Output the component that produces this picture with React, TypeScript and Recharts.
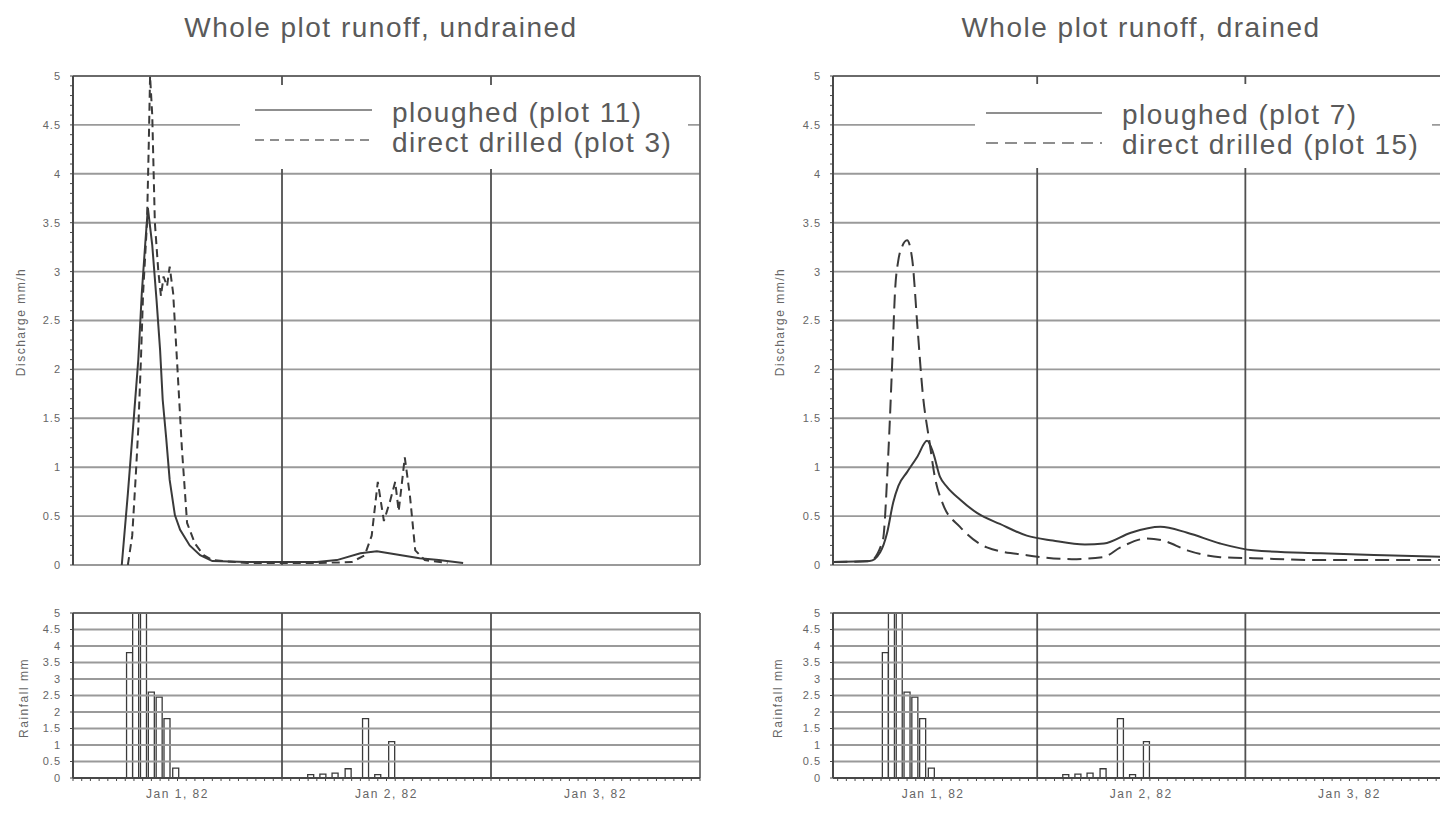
import React from 'react';
import { ComposedChart, Line, Bar, XAxis, YAxis, ReferenceLine, Legend } from 'recharts';

const FONT = '"Liberation Sans", Arial, Helvetica, sans-serif';
const INK = '#3a3a3a';
const GRID = '#9a9a9a';
const AXIS = '#484848';
const TEXT = '#5a5a5a';

// ---------- data (hours after 00:00, 1 Jan 1982) ----------
const undrainedPloughedHours = [5.6, 6.3, 6.9, 7.5, 7.9, 8.3, 8.6, 9.1, 9.6, 10.0, 10.3, 10.7, 11.1, 11.7, 12.3, 13.4, 14.6, 16.0, 20, 24, 28, 30.3, 33.0, 34.9, 37.0, 39.8, 42, 44.8];
const undrainedPloughedValues = [0, 0.73, 1.41, 2.1, 2.78, 3.29, 3.65, 3.27, 2.7, 2.2, 1.69, 1.3, 0.87, 0.51, 0.36, 0.2, 0.1, 0.04, 0.03, 0.03, 0.03, 0.05, 0.12, 0.14, 0.11, 0.07, 0.05, 0.02];

const undrainedDirectHours = [6.3, 6.8, 7.2, 7.5, 7.8, 8.05, 8.5, 8.7, 8.85, 9.1, 9.4, 9.8, 10.1, 10.4, 10.8, 11.1, 11.5, 12.0, 12.5, 13.1, 14.0, 15.0, 16.0, 20, 24, 28, 32, 33.5, 34.3, 35.0, 35.7, 36.4, 37.0, 37.4, 38.1, 38.7, 39.3, 40.4, 43];
const undrainedDirectValues = [0, 0.3, 0.9, 1.4, 2.1, 2.78, 3.5, 4.3, 5.0, 4.6, 3.5, 3.0, 2.75, 2.95, 2.85, 3.05, 2.78, 2.0, 1.2, 0.43, 0.22, 0.1, 0.05, 0.02, 0.02, 0.02, 0.03, 0.1, 0.3, 0.85, 0.45, 0.65, 0.85, 0.55, 1.1, 0.7, 0.15, 0.05, 0.02];

const drainedPloughedHours = [0.5, 4.7, 5.9, 6.7, 7.4, 8.0, 9.0, 10.2, 11.3, 12.0, 12.8, 13.6, 15.1, 17.1, 19.7, 22.8, 25.8, 29.5, 31.7, 34.8, 38.2, 41.3, 45.1, 48.9, 56.7, 64, 72];
const drainedPloughedValues = [0.03, 0.04, 0.13, 0.33, 0.64, 0.81, 0.95, 1.11, 1.27, 1.15, 0.9, 0.8, 0.67, 0.53, 0.42, 0.3, 0.25, 0.21, 0.22, 0.33, 0.39, 0.33, 0.22, 0.15, 0.12, 0.1, 0.08];

const drainedDirectHours = [0.5, 4.7, 6.2, 6.8, 7.3, 7.6, 8.0, 8.4, 9.0, 9.6, 10.2, 10.8, 11.6, 12.2, 13.1, 15.1, 18.2, 22.8, 28.0, 31.6, 33.6, 36.6, 38.5, 41.3, 45.1, 48.9, 56.7, 64, 72];
const drainedDirectValues = [0.03, 0.04, 0.25, 1.07, 2.1, 2.78, 3.12, 3.25, 3.32, 3.12, 2.43, 1.76, 1.25, 0.9, 0.63, 0.39, 0.18, 0.1, 0.06, 0.08, 0.18, 0.27, 0.25, 0.15, 0.08, 0.07, 0.05, 0.05, 0.05];

const rainHours = [6.5, 7.2, 8.1, 9.0, 9.9, 10.8, 11.8, 27.3, 28.7, 30.1, 31.6, 33.6, 35.0, 36.6];
const rainValues = [3.8, 5.0, 5.0, 2.6, 2.45, 1.8, 0.3, 0.1, 0.12, 0.15, 0.28, 1.8, 0.1, 1.1];

const yTickValues = [0, 0.5, 1, 1.5, 2, 2.5, 3, 3.5, 4, 4.5, 5];
const dayLineHours = [24, 48];
const dayLabelHours = [12, 36, 60];
const dayLabels = ['Jan 1, 82', 'Jan 2, 82', 'Jan 3, 82'];

// ---------- helpers ----------
type Pt = { h: number; v: number };
const zip = (hs: number[], vs: number[]): Pt[] => hs.map((h, i) => ({ h, v: vs[i] }));

const undrainedPloughed = zip(undrainedPloughedHours, undrainedPloughedValues);
const undrainedDirect = zip(undrainedDirectHours, undrainedDirectValues);
const drainedPloughed = zip(drainedPloughedHours, drainedPloughedValues);
const drainedDirect = zip(drainedDirectHours, drainedDirectValues);
const rainData = zip(rainHours, rainValues);

const minorY = Array.from({ length: 51 }, (_, i) => i / 10);
const hourTicks = Array.from({ length: 73 }, (_, i) => i);

const fmtY = (v: number) => {
  const r = Math.round(v * 100) / 100;
  return yTickValues.includes(r) ? String(r) : '';
};
const fmtX = (v: number) => {
  const i = dayLabelHours.indexOf(Math.round(v));
  return i >= 0 ? dayLabels[i] : '';
};

const tickStyle = { fontSize: 11, fill: '#666', fontFamily: FONT, letterSpacing: 1 };

type LegendCfg = {
  left: number; top: number; width: number;
  x0: number; x1: number; textX: number;
  solidY: number; dashedY: number; solidTop: number; dashedTop: number;
  solidLabel: string; dashedLabel: string; dash: string;
};

const LegendBox = ({ cfg }: { cfg: LegendCfg }) => (
  <div style={{ width: cfg.width, height: 84, background: '#fff', position: 'relative', fontFamily: FONT }}>
    <svg width={cfg.width} height={84} style={{ position: 'absolute', left: 0, top: 0 }}>
      <line x1={cfg.x0} x2={cfg.x1} y1={cfg.solidY} y2={cfg.solidY} stroke="#6a6a6a" strokeWidth={1.6} />
      <line x1={cfg.x0} x2={cfg.x1} y1={cfg.dashedY} y2={cfg.dashedY} stroke="#6a6a6a" strokeWidth={1.6} strokeDasharray={cfg.dash} />
    </svg>
    <div style={{ position: 'absolute', left: cfg.textX, top: cfg.solidTop, fontSize: 28, lineHeight: '30px', letterSpacing: 1.5, color: TEXT, whiteSpace: 'nowrap' }}>{cfg.solidLabel}</div>
    <div style={{ position: 'absolute', left: cfg.textX, top: cfg.dashedTop, fontSize: 28, lineHeight: '30px', letterSpacing: 1.5, color: TEXT, whiteSpace: 'nowrap' }}>{cfg.dashedLabel}</div>
  </div>
);

const AxisTitle = ({ x, y, text }: { x: number; y: number; text: string }) => (
  <div style={{ position: 'absolute', left: x, top: y, transform: 'translate(-50%, -50%) rotate(-90deg)', fontFamily: FONT, fontSize: 12, letterSpacing: 1.5, color: '#666', whiteSpace: 'nowrap' }}>{text}</div>
);

type RunoffProps = {
  left: number; rightMargin: number; xDomain: [number, number];
  solid: Pt[]; dashed: Pt[]; dash: string; curve: 'linear' | 'monotone'; legend: LegendCfg;
};

const RunoffChart = ({ left, rightMargin, xDomain, solid, dashed, dash, curve, legend }: RunoffProps) => (
  <div style={{ position: 'absolute', left, top: 0 }}>
    <ComposedChart width={720} height={580} margin={{ top: 76, right: rightMargin, bottom: 15, left: 8 }}>
      <XAxis type="number" dataKey="h" domain={xDomain} allowDataOverflow hide />
      <YAxis type="number" domain={[0, 5]} allowDataOverflow ticks={minorY} interval={0} tickFormatter={fmtY}
        width={65} axisLine={{ stroke: AXIS, strokeWidth: 2 }} tickLine={{ stroke: AXIS }} tickSize={3} tickMargin={9} tick={tickStyle} />
      {yTickValues.map((y) => (
        <ReferenceLine key={'g' + y} y={y} stroke={y === 5 ? '#6a6a6a' : GRID} strokeWidth={1.9} />
      ))}
      {dayLineHours.map((x) => (
        <ReferenceLine key={'d' + x} x={x} stroke="#505050" strokeWidth={1.8} />
      ))}
      <ReferenceLine x={72} stroke="#6a6a6a" strokeWidth={1.8} />
      <Line data={solid} dataKey="v" type={curve} stroke={INK} strokeWidth={2} dot={false} isAnimationActive={false} />
      <Line data={dashed} dataKey="v" type={curve} stroke={INK} strokeWidth={2} strokeDasharray={dash} dot={false} isAnimationActive={false} />
      <Legend layout="vertical" verticalAlign="middle" align="center"
        wrapperStyle={{ left: legend.left, top: legend.top, width: legend.width, height: 84 }}
        content={() => <LegendBox cfg={legend} />} />
    </ComposedChart>
  </div>
);

const RainChart = ({ left, rightMargin, xDomain }: { left: number; rightMargin: number; xDomain: [number, number] }) => (
  <div style={{ position: 'absolute', left, top: 600 }}>
    <ComposedChart width={720} height={213} data={rainData} margin={{ top: 13, right: rightMargin, bottom: 5, left: 8 }}>
      <XAxis type="number" dataKey="h" domain={xDomain} allowDataOverflow ticks={hourTicks.filter((t) => t >= xDomain[0])}
        interval={0} tickFormatter={fmtX} tickSize={3} tickMargin={8} height={30}
        axisLine={{ stroke: AXIS, strokeWidth: 1.8 }} tickLine={{ stroke: AXIS }}
        tick={{ fontSize: 12, fill: '#666', fontFamily: FONT, letterSpacing: 1.5 }} />
      <YAxis type="number" domain={[0, 5]} allowDataOverflow ticks={yTickValues} interval={0}
        width={65} axisLine={{ stroke: AXIS, strokeWidth: 2 }} tickLine={{ stroke: AXIS }} tickSize={3} tickMargin={9} tick={tickStyle} />
      {yTickValues.filter((y) => y > 0).map((y) => (
        <ReferenceLine key={'g' + y} y={y} stroke={y === 5 ? '#6a6a6a' : GRID} strokeWidth={1.9} />
      ))}
      {dayLineHours.map((x) => (
        <ReferenceLine key={'d' + x} x={x} stroke="#505050" strokeWidth={1.8} />
      ))}
      <ReferenceLine x={72} stroke="#6a6a6a" strokeWidth={1.8} />
      <Bar dataKey="v" barSize={6} fill="#ffffff" stroke={INK} strokeWidth={1.3} isAnimationActive={false} />
    </ComposedChart>
  </div>
);

const leftLegend: LegendCfg = {
  left: 240, top: 85, width: 448, x0: 15, x1: 132, textX: 152,
  solidY: 25, dashedY: 55, solidTop: 13, dashedTop: 43,
  solidLabel: 'ploughed (plot 11)', dashedLabel: 'direct drilled (plot 3)', dash: '9 6',
};
const rightLegend: LegendCfg = {
  left: 215, top: 84, width: 457, x0: 11, x1: 127, textX: 147,
  solidY: 29, dashedY: 59, solidTop: 16, dashedTop: 46,
  solidLabel: 'ploughed (plot 7)', dashedLabel: 'direct drilled (plot 15)', dash: '12 7',
};

const titleStyle: React.CSSProperties = {
  position: 'absolute', top: 12, width: 762, textAlign: 'center', fontFamily: FONT,
  fontSize: 28, lineHeight: '32px', letterSpacing: 1.5, color: TEXT, whiteSpace: 'nowrap',
};

export default function App() {
  return (
    <div style={{ position: 'fixed', left: 0, top: 0, width: 1440, height: 813, overflow: 'hidden', background: '#fff' }}>
      <div style={{ ...titleStyle, left: 0 }}>Whole plot runoff, undrained</div>
      <div style={{ ...titleStyle, left: 760 }}>Whole plot runoff, drained</div>

      <RunoffChart left={0} rightMargin={20} xDomain={[0, 72]} solid={undrainedPloughed} dashed={undrainedDirect}
        dash="8 5" curve="linear" legend={leftLegend} />
      <RunoffChart left={760} rightMargin={23} xDomain={[0.46, 72.4]} solid={drainedPloughed} dashed={drainedDirect}
        dash="14 7" curve="monotone" legend={rightLegend} />

      <RainChart left={0} rightMargin={20} xDomain={[0, 72]} />
      <RainChart left={760} rightMargin={23} xDomain={[0.46, 72.4]} />

      <AxisTitle x={21} y={322} text="Discharge mm/h" />
      <AxisTitle x={780} y={322} text="Discharge mm/h" />
      <AxisTitle x={24} y={698} text="Rainfall mm" />
      <AxisTitle x={778} y={698} text="Rainfall mm" />
    </div>
  );
}
